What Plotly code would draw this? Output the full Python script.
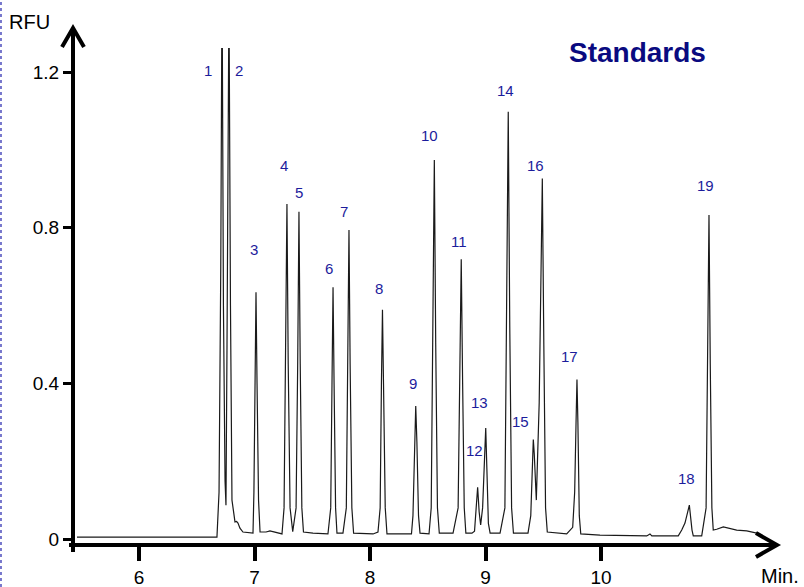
import plotly.graph_objects as go

# Chromatogram trace (minutes, RFU)
trace_t = [5.463, 6.675,
           6.693, 6.708, 6.719, 6.731, 6.745, 6.753,
           6.762, 6.779, 6.792, 6.805, 6.831, 6.845, 6.857, 6.874, 6.900, 6.961, 6.987,
           6.995, 7.005, 7.013, 7.022, 7.035, 7.048, 7.100, 7.134, 7.180, 7.238,
           7.256, 7.270, 7.281, 7.292, 7.308, 7.331,
           7.360, 7.374, 7.385, 7.396, 7.410, 7.424, 7.506, 7.636,
           7.660, 7.671, 7.680, 7.689, 7.702, 7.714, 7.766,
           7.795, 7.808, 7.818, 7.828, 7.843, 7.858, 8.026, 8.069,
           8.088, 8.099, 8.108, 8.117, 8.132, 8.147, 8.260, 8.359,
           8.372, 8.386, 8.396, 8.406, 8.420, 8.433, 8.511,
           8.530, 8.545, 8.557, 8.569, 8.584, 8.600, 8.719,
           8.763, 8.778, 8.790, 8.802, 8.816, 8.830, 8.883,
           8.905, 8.918, 8.932, 8.945, 8.958,
           8.975, 8.990, 9.002, 9.012, 9.025, 9.040, 9.126,
           9.168, 9.184, 9.197, 9.210, 9.226, 9.242, 9.368,
           9.392, 9.405, 9.414, 9.422, 9.432, 9.440,
           9.465, 9.480, 9.492, 9.505, 9.520, 9.535, 9.703, 9.755,
           9.772, 9.784, 9.792, 9.800, 9.812, 9.825, 9.991, 10.396, 10.424, 10.440, 10.669,
           10.699, 10.727, 10.765, 10.780, 10.788, 10.799, 10.872,
           10.910, 10.924, 10.935, 10.946, 10.960, 10.972, 11.002, 11.059, 11.102,
           11.175, 11.262, 11.319, 11.377]
trace_v = [0.005, 0.005,
           0.12, 0.70, 1.45, 0.60, 0.15, 0.087,
           0.50, 1.40, 0.60, 0.10, 0.044, 0.045, 0.041, 0.028, 0.018, 0.015, 0.015,
           0.12, 0.40, 0.634, 0.40, 0.10, 0.018, 0.018, 0.021, 0.018, 0.013,
           0.08, 0.45, 0.861, 0.45, 0.08, 0.019,
           0.08, 0.45, 0.841, 0.45, 0.08, 0.018, 0.015, 0.013,
           0.08, 0.40, 0.647, 0.40, 0.08, 0.015, 0.015,
           0.08, 0.45, 0.794, 0.45, 0.08, 0.015, 0.013, 0.018,
           0.08, 0.40, 0.589, 0.40, 0.08, 0.013, 0.013, 0.013,
           0.06, 0.25, 0.342, 0.25, 0.06, 0.015, 0.013,
           0.08, 0.50, 0.974, 0.50, 0.08, 0.015, 0.015,
           0.08, 0.40, 0.719, 0.40, 0.08, 0.015, 0.015,
           0.02, 0.07, 0.133, 0.07, 0.036,
           0.08, 0.22, 0.285, 0.18, 0.04, 0.015, 0.015,
           0.08, 0.55, 1.098, 0.55, 0.08, 0.015, 0.015,
           0.06, 0.20, 0.256, 0.22, 0.13, 0.10,
           0.35, 0.70, 0.927, 0.50, 0.08, 0.018, 0.013, 0.030,
           0.12, 0.30, 0.41, 0.30, 0.06, 0.013, 0.010, 0.008, 0.013, 0.008, 0.008,
           0.023, 0.041, 0.087, 0.04, 0.023, 0.008, 0.008,
           0.08, 0.45, 0.833, 0.45, 0.08, 0.023, 0.025, 0.031, 0.028,
           0.023, 0.021, 0.018, 0.013]

# Peak labels and their positions (data units)
peak_labels = [str(i) for i in range(1, 20)]
label_t = [6.600, 6.866, 6.996, 7.255, 7.385, 7.648, 7.775, 8.078, 8.372, 8.513,
           8.768, 8.909, 8.944, 9.169, 9.299, 9.435, 9.726, 10.736, 10.906]
label_v = [1.204, 1.204, 0.743, 0.960, 0.891, 0.696, 0.841, 0.644, 0.401, 1.036,
           0.764, 0.227, 0.350, 1.154, 0.302, 0.960, 0.470, 0.156, 0.910]

x_ticks = [6, 7, 8, 9, 10]
y_ticks = [0, 0.4, 0.8, 1.2]
y_ticktext = ["0", "0.4", "0.8", "1.2"]

FONT = "Liberation Sans, Arial, sans-serif"

fig = go.Figure()
fig.add_trace(go.Scatter(x=trace_t, y=trace_v, mode="lines",
                         line=dict(color="#1a1a1a", width=1.2),
                         hoverinfo="skip", showlegend=False))

for lab, t, v in zip(peak_labels, label_t, label_v):
    fig.add_annotation(x=t, y=v, xref="x", yref="y", text=lab, showarrow=False,
                       xanchor="center", yanchor="middle",
                       font=dict(family=FONT, size=15, color="#1c1c9c"))

# Title and axis captions
fig.add_annotation(x=0.807, y=0.990, xref="paper", yref="paper", text="<b>Standards</b>",
                   showarrow=False, xanchor="center", yanchor="middle",
                   font=dict(family=FONT, size=28, color="#0a0a80"))
fig.add_annotation(x=-0.0621, y=1.0523, xref="paper", yref="paper", text="RFU",
                   showarrow=False, xanchor="center", yanchor="middle",
                   font=dict(family=FONT, size=20, color="black"))
fig.add_annotation(x=1.0100, y=-0.0624, xref="paper", yref="paper", text="Min.",
                   showarrow=False, xanchor="center", yanchor="middle",
                   font=dict(family=FONT, size=20, color="black"))

# Axis lines with arrowheads
axis_line = dict(color="black", width=4)
fig.add_shape(type="line", xref="paper", yref="paper", x0=0, x1=0, y0=-0.0141, y1=1.038, line=axis_line)
fig.add_shape(type="line", xref="paper", yref="paper", x0=-0.0057, x1=1.004, y0=0, y1=0, line=axis_line)
fig.add_shape(type="path", xref="paper", yref="paper",
              path="M -0.0157,1.002 L 0,1.0403 L 0.0157,1.002", line=axis_line)
fig.add_shape(type="path", xref="paper", yref="paper",
              path="M 0.9757,0.0241 L 1.0057,0 L 0.9757,-0.0241", line=axis_line)
# clipped blue dotted text edge at far left
fig.add_shape(type="line", xref="paper", yref="paper", x0=-0.1029, x1=-0.1029, y0=-0.0845, y1=1.0966,
              line=dict(color="#7777cc", width=2, dash="dot"))

fig.update_layout(
    width=804, height=587,
    margin=dict(l=73, r=31, t=48, b=42, autoexpand=False),
    paper_bgcolor="white", plot_bgcolor="white",
    xaxis=dict(range=[5.4286, 11.4892], tickvals=x_ticks, ticks="outside", ticklen=15, tickwidth=3.5,
               tickcolor="black", showgrid=False, zeroline=False, showline=False,
               automargin=False, ticklabelstandoff=0,
               tickfont=dict(family=FONT, size=19, color="black")),
    yaxis=dict(range=[-0.01542, 1.2622], tickvals=y_ticks, ticktext=y_ticktext, ticks="outside",
               ticklen=9, tickwidth=3, tickcolor="black", showgrid=False, zeroline=False,
               automargin=False, showline=False,
               tickfont=dict(family=FONT, size=19, color="black")),
)

fig.write_html("out.html", config={"displayModeBar": False},
               post_script="document.body.style.margin='0px';document.body.style.overflow='hidden';")
